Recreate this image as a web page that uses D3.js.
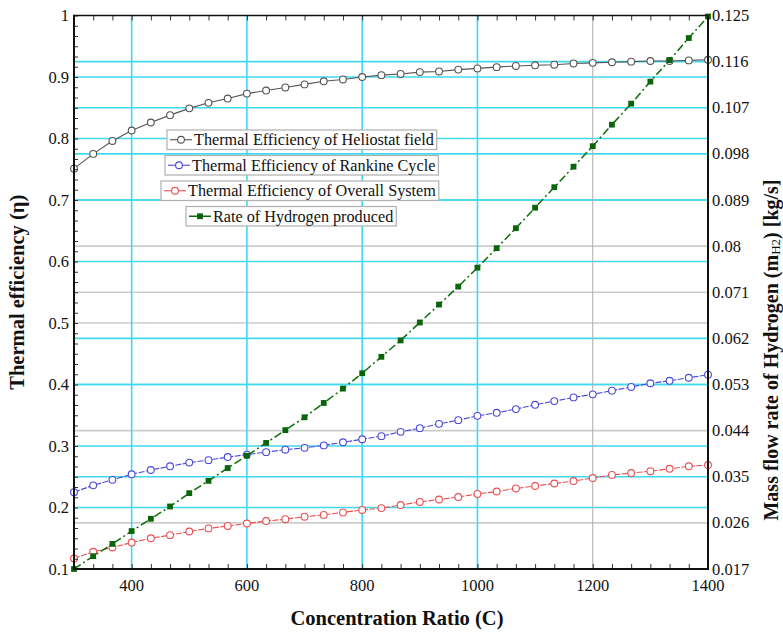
<!DOCTYPE html>
<html>
<head>
<meta charset="utf-8">
<script src="https://cdn.jsdelivr.net/npm/d3@7"></script>
<style>
  html, body { margin: 0; padding: 0; background: #fff; }
  svg { display: block; }
  text { font-family: "Liberation Serif", "Times New Roman", serif; fill: #111; }
</style>
</head>
<body>
<svg id="chart" width="783" height="633"></svg>
<script>
// Concentration ratio (C) at each computed point
const concentration = [
  300, 333.33, 366.67, 400, 433.33, 466.67, 500, 533.33, 566.67, 600,
  633.33, 666.67, 700, 733.33, 766.67, 800, 833.33, 866.67, 900, 933.33,
  966.67, 1000, 1033.33, 1066.67, 1100, 1133.33, 1166.67, 1200, 1233.33,
  1266.67, 1300, 1333.33, 1366.67, 1400
];

// Thermal efficiency of the heliostat field
const heliostatEff = [
  0.751, 0.775, 0.796, 0.813, 0.826, 0.838, 0.849, 0.858, 0.865, 0.873,
  0.878, 0.883, 0.888, 0.893, 0.896, 0.900, 0.903, 0.905, 0.908, 0.909,
  0.912, 0.914, 0.916, 0.918, 0.919, 0.920, 0.922, 0.923, 0.924, 0.925,
  0.926, 0.926, 0.927, 0.928
];

// Thermal efficiency of the Rankine cycle
const rankineEff = [
  0.225, 0.236, 0.245, 0.254, 0.261, 0.267, 0.273, 0.277, 0.282, 0.286,
  0.290, 0.294, 0.297, 0.301, 0.306, 0.311, 0.316, 0.323, 0.329, 0.336,
  0.342, 0.349, 0.354, 0.360, 0.367, 0.373, 0.379, 0.384, 0.390, 0.396,
  0.402, 0.406, 0.411, 0.416
];

// Thermal efficiency of the overall system
const overallEff = [
  0.117, 0.128, 0.135, 0.143, 0.150, 0.155, 0.161, 0.166, 0.170, 0.174,
  0.178, 0.181, 0.185, 0.188, 0.192, 0.196, 0.199, 0.204, 0.209, 0.213,
  0.217, 0.222, 0.226, 0.231, 0.235, 0.239, 0.243, 0.248, 0.253, 0.256,
  0.259, 0.263, 0.267, 0.269
];

// Mass flow rate of hydrogen produced [kg/s]
const hydrogenRate = [
  0.0170, 0.0195, 0.0219, 0.0244, 0.0268, 0.0292, 0.0318, 0.0342, 0.0367, 0.0391,
  0.0416, 0.0441, 0.0466, 0.0494, 0.0522, 0.0552, 0.0584, 0.0616, 0.0651, 0.0686,
  0.0721, 0.0758, 0.0796, 0.0835, 0.0875, 0.0915, 0.0955, 0.0995, 0.1037, 0.1078,
  0.1121, 0.1163, 0.1206, 0.1248
];

// Axis tick labels
const xTicks = [400, 600, 800, 1000, 1200, 1400];
const leftTicks = [0.1, 0.2, 0.3, 0.4, 0.5, 0.6, 0.7, 0.8, 0.9, 1];
const rightTicks = [0.017, 0.026, 0.035, 0.044, 0.053, 0.062, 0.071, 0.08, 0.089, 0.098, 0.107, 0.116, 0.125];

// Series names
const seriesNames = [
  "Thermal Efficiency of Heliostat field",
  "Thermal Efficiency of Rankine Cycle",
  "Thermal Efficiency of Overall System",
  "Rate of Hydrogen produced"
];

const svg = d3.select("#chart");
const plot = { left: 74, right: 708, top: 15.5, bottom: 569 };

const x = d3.scaleLinear().domain([300, 1400]).range([plot.left, plot.right]);
const yL = d3.scaleLinear().domain([0.1, 1]).range([plot.bottom, plot.top]);
const yR = d3.scaleLinear().domain([0.017, 0.125]).range([plot.bottom, plot.top]);

const CYAN = "#3fd9f0";
const GRID_GRAY = "#cccccc";

// ---- grid ----
const grid = svg.append("g").attr("class", "grid");

const grayLeft = new Set([0.5]);
const grayRight = new Set([0.026, 0.044, 0.071, 0.08]);

grid.selectAll("line.hr")
  .data(rightTicks.slice(1, -1))
  .join("line")
  .attr("x1", plot.left).attr("x2", plot.right)
  .attr("y1", d => yR(d)).attr("y2", d => yR(d))
  .attr("stroke", d => grayRight.has(d) ? GRID_GRAY : CYAN)
  .attr("stroke-width", 1.6);

grid.selectAll("line.hl")
  .data(leftTicks.slice(1, -1))
  .join("line")
  .attr("x1", plot.left).attr("x2", plot.right)
  .attr("y1", d => yL(d)).attr("y2", d => yL(d))
  .attr("stroke", d => grayLeft.has(d) ? GRID_GRAY : CYAN)
  .attr("stroke-width", 1.6);

grid.selectAll("line.v")
  .data(xTicks.slice(0, -1))
  .join("line")
  .attr("x1", d => x(d)).attr("x2", d => x(d))
  .attr("y1", plot.top).attr("y2", plot.bottom)
  .attr("stroke", d => d === 1200 ? "#b4b4b4" : CYAN)
  .attr("stroke-width", d => d === 1200 ? 1.1 : 1.6);

// ---- series ----
const series = svg.append("g").attr("class", "series");

function drawCircleSeries(values, scale, lineColor, markerColor, dash) {
  const pts = concentration.map((c, i) => [x(c), scale(values[i])]);
  series.append("path")
    .attr("d", d3.line()(pts))
    .attr("fill", "none")
    .attr("stroke", lineColor)
    .attr("stroke-width", 1.1)
    .attr("stroke-dasharray", dash || null);
  series.append("g").selectAll("circle")
    .data(pts)
    .join("circle")
    .attr("cx", d => d[0]).attr("cy", d => d[1])
    .attr("r", 3.4)
    .attr("fill", "#fff")
    .attr("stroke", markerColor)
    .attr("stroke-width", 1.1);
}

drawCircleSeries(heliostatEff, yL, "#555", "#555");
drawCircleSeries(rankineEff, yL, "#4a4ad8", "#4a4ad8", "6,1.5");
drawCircleSeries(overallEff, yL, "#e85050", "#e85050", "6,1.5");

// hydrogen rate on the secondary axis, dash-dot line with filled squares
const hPts = concentration.map((c, i) => [x(c), yR(hydrogenRate[i])]);
series.append("path")
  .attr("d", d3.line()(hPts))
  .attr("fill", "none")
  .attr("stroke", "#0a6e0a")
  .attr("stroke-width", 1.5)
  .attr("stroke-dasharray", "8,3,2,3");
series.append("g").selectAll("rect")
  .data(hPts)
  .join("rect")
  .attr("x", d => d[0] - 2.9).attr("y", d => d[1] - 2.9)
  .attr("width", 5.8).attr("height", 5.8)
  .attr("fill", "#0a640a");

// ---- legend (one framed entry per series) ----
const legendBoxes = [
  { left: 167, top: 130 },
  { left: 165, top: 155.5 },
  { left: 161, top: 181 },
  { left: 186, top: 206.5 }
];
const legendStyles = [
  { line: "#555", marker: "circle", color: "#555" },
  { line: "#4a4ad8", marker: "circle", color: "#4a4ad8" },
  { line: "#e85050", marker: "circle", color: "#e85050" },
  { line: "#0a6e0a", marker: "square", color: "#0a640a" }
];
const legend = svg.append("g").attr("class", "legend");
seriesNames.forEach((name, i) => {
  const b = legendBoxes[i], s = legendStyles[i];
  const g = legend.append("g");
  const rect = g.append("rect")
    .attr("x", b.left).attr("y", b.top)
    .attr("height", 19.5)
    .attr("fill", "#fff")
    .attr("stroke", "#b0b0b0")
    .attr("stroke-width", 1.2);
  const cy = b.top + 9.75;
  g.append("line")
    .attr("x1", b.left + 3).attr("x2", b.left + 25)
    .attr("y1", cy).attr("y2", cy)
    .attr("stroke", s.line).attr("stroke-width", s.marker === "square" ? 1.5 : 1.1);
  if (s.marker === "circle") {
    g.append("circle").attr("cx", b.left + 14).attr("cy", cy).attr("r", 3.4)
      .attr("fill", "#fff").attr("stroke", s.color).attr("stroke-width", 1.1);
  } else {
    g.append("rect").attr("x", b.left + 14 - 2.9).attr("y", cy - 2.9)
      .attr("width", 5.8).attr("height", 5.8).attr("fill", s.color);
  }
  const t = g.append("text")
    .attr("x", b.left + 27).attr("y", cy + 5.5)
    .attr("font-size", 16.2)
    .text(name);
  const w = t.node().getComputedTextLength();
  rect.attr("width", 27 + w + 3);
});

// ---- axes ----
const minorX = d3.range(0, 34).map(i => 300 + i * 100 / 3);
const minorY = d3.range(0, 55).map(i => 0.1 + i * 0.1 / 6);

// bottom axis: inward ticks
const axisB = svg.append("g").attr("transform", `translate(0,${plot.bottom})`);
axisB.call(d3.axisBottom(x).tickValues(minorX).tickSize(-5).tickFormat(""));
axisB.selectAll(".tick line").attr("stroke", "#333");
axisB.select(".domain").remove();
axisB.selectAll("text.lbl")
  .data(xTicks)
  .join("text")
  .attr("class", "lbl")
  .attr("x", d => x(d)).attr("y", 22)
  .attr("text-anchor", "middle")
  .attr("font-size", 16.5)
  .text(d => d);

// top axis: inward ticks
const axisT = svg.append("g").attr("transform", `translate(0,${plot.top})`);
axisT.call(d3.axisTop(x).tickValues(minorX).tickSize(-5).tickFormat(""));
axisT.selectAll(".tick line").attr("stroke", "#333");
axisT.select(".domain").remove();

// left axis: inward ticks, labelled
const axisL = svg.append("g").attr("transform", `translate(${plot.left},0)`);
axisL.call(d3.axisLeft(yL).tickValues(minorY).tickSize(-4).tickFormat(""));
axisL.selectAll(".tick line").attr("stroke", "#333");
axisL.select(".domain").remove();
axisL.selectAll("text.lbl")
  .data(leftTicks)
  .join("text")
  .attr("class", "lbl")
  .attr("x", -5).attr("y", d => yL(d) + 5.5)
  .attr("text-anchor", "end")
  .attr("font-size", 16.5)
  .text(d => d3.format("~g")(d));

// right axis labels
const axisR = svg.append("g").attr("transform", `translate(${plot.right},0)`);
axisR.selectAll("text.lbl")
  .data(rightTicks)
  .join("text")
  .attr("class", "lbl")
  .attr("x", 4).attr("y", d => yR(d) + 5.5)
  .attr("font-size", 16.5)
  .text(d => d3.format("~g")(d));

// frame
svg.append("line").attr("x1", plot.left).attr("x2", plot.right)
  .attr("y1", plot.top).attr("y2", plot.top)
  .attr("stroke", "#111").attr("stroke-width", 1.4);
svg.append("line").attr("x1", plot.left - 1).attr("x2", plot.right + 1)
  .attr("y1", plot.bottom).attr("y2", plot.bottom)
  .attr("stroke", "#111").attr("stroke-width", 2);
svg.append("line").attr("x1", plot.left).attr("x2", plot.left)
  .attr("y1", plot.top - 0.7).attr("y2", plot.bottom + 1)
  .attr("stroke", "#111").attr("stroke-width", 2);
svg.append("line").attr("x1", plot.right).attr("x2", plot.right)
  .attr("y1", plot.top - 0.7).attr("y2", plot.bottom + 1)
  .attr("stroke", "#111").attr("stroke-width", 2);

// ---- axis titles ----
svg.append("text")
  .attr("x", (plot.left + plot.right) / 2 + 6).attr("y", 625)
  .attr("text-anchor", "middle")
  .attr("font-size", 20.5).attr("font-weight", "bold")
  .text("Concentration Ratio (C)");

svg.append("text")
  .attr("transform", `translate(24,${(plot.top + plot.bottom) / 2}) rotate(-90)`)
  .attr("text-anchor", "middle")
  .attr("font-size", 20.5).attr("font-weight", "bold")
  .text("Thermal efficiency (η)");

const rt = svg.append("text")
  .attr("transform", `translate(778,350) rotate(-90)`)
  .attr("text-anchor", "middle")
  .attr("font-size", 20).attr("font-weight", "bold");
rt.append("tspan").text("Mass flow rate of Hydrogen (m");
rt.append("tspan").attr("font-size", 13).attr("font-weight", "normal").attr("dy", 1.5).text("H2");
rt.append("tspan").attr("dy", -1.5).text(") [kg/s]");
</script>
</body>
</html>
